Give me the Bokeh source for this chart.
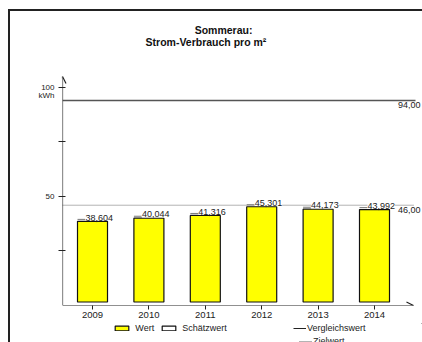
from bokeh.plotting import figure
from bokeh.layouts import column
from bokeh.models import (Range1d, FixedTicker, Label, Legend, LegendItem,
                          Arrow, OpenHead, ColumnDataSource)
from bokeh.embed import file_html
from bokeh.resources import INLINE

# ---- data ----
years = ["2009", "2010", "2011", "2012", "2013", "2014"]
values = [38.604, 40.044, 41.316, 45.301, 44.173, 43.992]
reference_value = 94.0      # Vergleichswert
target_value = 46.0         # Zielwert
y_ticks = [25, 50, 75, 100]
y_tick_labels = ["", "50", "", "100"]
unit = "kWh"
title_lines = ["Sommerau:", "Strom-Verbrauch pro m²"]
legend_labels = ["Wert", "Schätzwert", "Vergleichswert", "Zielwert"]

FONT = "Liberation Sans"
xs = list(range(len(years)))

# layout constants (data-space positions of decorations)
x_start, x_end = -0.532, 5.851
y_end = 134.86
x_arrow, y_arrow = 5.691, 105.05
ref_line_end = 5.727
value_label_x = 5.816
bar_width = 0.532

p = figure(width=412, height=312, output_backend="svg", toolbar_location=None,
           x_range=Range1d(x_start, x_end), y_range=Range1d(0, y_end),
           min_border_left=52, min_border_right=0, min_border_top=0, min_border_bottom=18,
           background_fill_color="white", border_fill_color="white")
p.outline_line_color = None
p.grid.visible = False

# axes
labels = dict(zip(y_ticks, y_tick_labels))
labels[y_ticks[-1]] = "\n".join(["\u00a0", labels[y_ticks[-1]], unit])
p.xaxis.ticker = FixedTicker(ticks=xs)
p.xaxis.major_label_overrides = {i: y for i, y in zip(xs, years)}
p.yaxis.ticker = FixedTicker(ticks=y_ticks)
p.yaxis.major_label_overrides = labels
for ax in (p.xaxis, p.yaxis):
    ax.axis_line_color = None
    ax.major_tick_line_color = "#222"
    ax.major_tick_line_width = 1
    ax.minor_tick_line_color = None
    ax.major_label_text_font = FONT
    ax.major_label_text_color = "#222"
p.xaxis.major_tick_in = 0
p.xaxis.major_tick_out = 4
p.xaxis.major_label_standoff = 2
p.xaxis.major_label_text_font_size = "9.5px"
p.yaxis.major_tick_in = 3
p.yaxis.major_tick_out = 4
p.yaxis.major_label_standoff = 4
p.yaxis.major_label_text_font_size = "8px"
p.yaxis.major_label_text_line_height = 0.9

# axis lines with arrows
p.add_layout(Arrow(end=OpenHead(size=7, line_width=1.2, line_color="#222"),
                   x_start=x_start, y_start=0, x_end=x_start, y_end=y_arrow,
                   line_color="#222", line_width=1.2))
p.add_layout(Arrow(end=OpenHead(size=7, line_width=1.2, line_color="#222"),
                   x_start=x_start, y_start=0, x_end=x_arrow, y_end=0,
                   line_color="#222", line_width=1.2))

# reference lines
p.segment(x0=[x_start], y0=[reference_value], x1=[ref_line_end], y1=[reference_value],
          line_color="#555", line_width=1.5)
p.segment(x0=[x_start], y0=[target_value], x1=[x_arrow], y1=[target_value],
          line_color="#666", line_width=1, line_dash="1 1")

# bars
src = ColumnDataSource(dict(x=xs, top=values))
p.vbar(x="x", top="top", bottom=1.6, width=bar_width, source=src,
       fill_color="#FFFF00", line_color="#111", line_width=1.2)

# short leader lines from the bar edge to each value label
lead_x0 = [x - bar_width / 2 for x in xs]
lead_x1 = [x - 0.13 for x in xs]
lead_y = [v + 0.9 for v in values]
p.segment(x0=lead_x0, y0=lead_y, x1=lead_x1, y1=lead_y, line_color="#555", line_width=0.8)

# value labels
for x, v in zip(xs, values):
    p.add_layout(Label(x=x, y=v, text=f"{v:.3f}".replace(".", ","), x_offset=-7, y_offset=0.8,
                       text_align="left", text_baseline="bottom",
                       text_font=FONT, text_font_size="9px", text_color="#222",
                       background_fill_color="white", padding=0))

for v in (reference_value, target_value):
    p.add_layout(Label(x=value_label_x, y=v, text=f"{v:.2f}".replace(".", ","), y_offset=-1.5,
                       text_align="right", text_baseline="top",
                       text_font=FONT, text_font_size="9px", text_color="#222"))

# title (inside the frame, data coordinates)
p.add_layout(Label(x=2.323, y=126.4, text=title_lines[0],
                   text_align="center", text_baseline="middle", text_font=FONT,
                   text_font_size="10.5px", text_font_style="bold", text_color="#111"))
p.add_layout(Label(x=2.012, y=120.8, text=title_lines[1],
                   text_align="center", text_baseline="middle", text_font=FONT,
                   text_font_size="10.5px", text_font_style="bold", text_color="#111"))

# ---- legend strip (separate small figure under the chart) ----
# its ranges lie outside the data, so only the legend itself is visible
lf = figure(width=412, height=19, output_backend="svg", toolbar_location=None,
            x_axis_type=None, y_axis_type=None,
            x_range=Range1d(-3, -2), y_range=Range1d(-3, -2),
            min_border_left=0, min_border_right=0, min_border_top=0, min_border_bottom=0,
            background_fill_color="white", border_fill_color="white")
lf.outline_line_color = None
lf.grid.visible = False

wert = lf.vbar(x="x", top="top", width=0.5, source=src,
               fill_color="#FFFF00", line_color="#111", line_width=1.2)
est = lf.vbar(x="x", top="top", width=0.5, source=src,
              fill_color="white", line_color="#111", line_width=1.2)
leg_ref = lf.line(x="x", y="top", source=src, line_color="#222", line_width=1)
leg_tgt = lf.line(x="x", y="top", source=src, line_color="#666", line_width=1, line_dash="1 1")

common = dict(orientation="horizontal", glyph_height=6, label_height=9,
              label_width=10, spacing=6, padding=0, margin=0,
              border_line_color=None, background_fill_alpha=0,
              label_text_font=FONT, label_text_font_size="9px", label_text_color="#222")
lg1 = Legend(items=[LegendItem(label=legend_labels[0], renderers=[wert]),
                    LegendItem(label=legend_labels[1], renderers=[est])],
             location=(51.3, 9), glyph_width=17, label_standoff=5, **common)
lg3 = Legend(items=[LegendItem(label=legend_labels[2], renderers=[leg_ref])],
             location=(231, 9), glyph_width=13, label_standoff=1, **common)
lg2 = Legend(items=[LegendItem(label=legend_labels[3], renderers=[leg_tgt])],
             location=(237, -3.5), glyph_width=13, label_standoff=1, **common)
lf.add_layout(lg1)
lf.add_layout(lg3)
lf.add_layout(lg2)

layout = column(p, lf, spacing=0)
layout.styles = {"margin-left": "8px", "margin-top": "9px",
                 "border-left": "2px solid #222", "border-top": "2px solid #222"}

open("out.html", "w").write(file_html(layout, INLINE))
